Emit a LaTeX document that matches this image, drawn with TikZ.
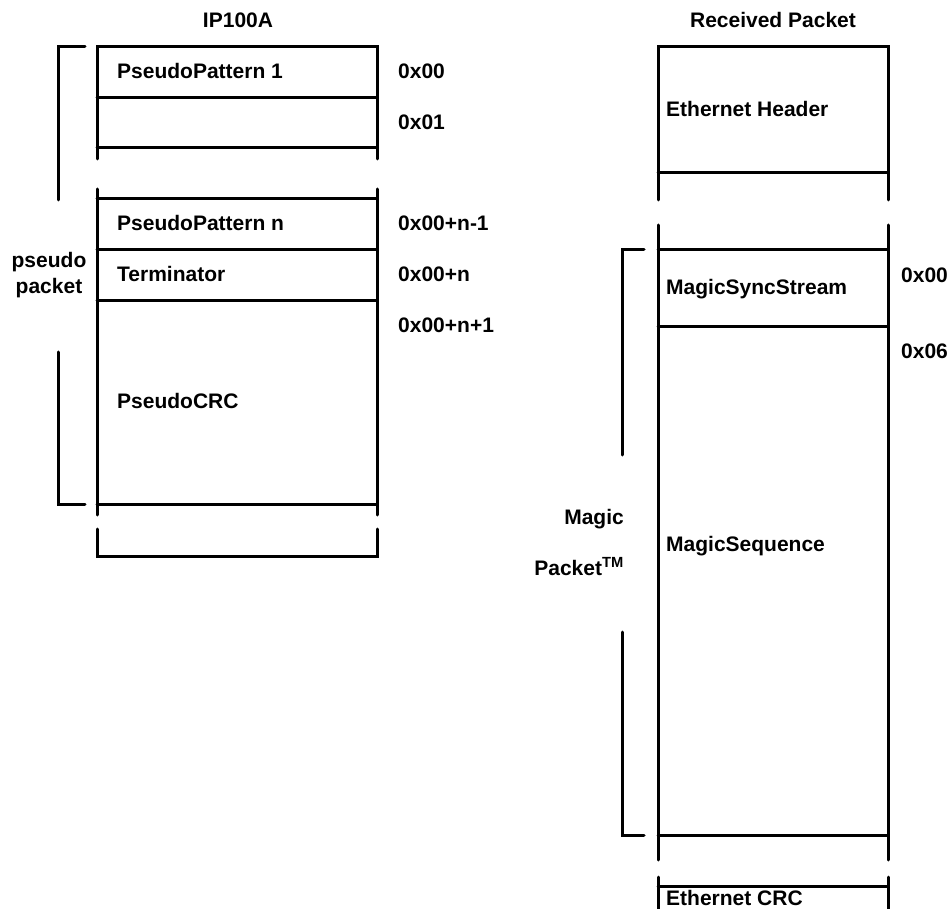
\documentclass[tikz,border=0pt]{standalone}
\usepackage{fontspec}
\setmainfont{Liberation Sans}
\begin{document}
\begin{tikzpicture}[x=1pt,y=-1pt,
  ln/.style={line width=3pt,line cap=round,line join=miter},
  lbl/.style={font=\fontsize{21}{25}\bfseries\selectfont,inner sep=0pt,anchor=base west},
  ttl/.style={font=\fontsize{21}{25}\bfseries\selectfont,inner sep=0pt,anchor=base},
  rlbl/.style={font=\fontsize{21}{25}\bfseries\selectfont,inner sep=0pt,anchor=base east}]
\useasboundingbox (0,0) rectangle (951,909);
% ---------- left: IP100A ----------
\node[ttl] (t1) at (238,28) {IP100A};
\draw[ln] (97,159) -- (97,47) -- (377,47) -- (377,159);
\draw[ln] (97,98) -- (377,98);
\draw[ln] (97,148) -- (377,148);
\draw[ln] (97,189) -- (97,515);
\draw[ln] (377,189) -- (377,515);
\draw[ln] (97,199) -- (377,199);
\draw[ln] (97,250) -- (377,250);
\draw[ln] (97,301) -- (377,301);
\draw[ln] (97,504) -- (377,504);
\draw[ln] (97,529) -- (97,556) -- (377,556) -- (377,529);
% bracket
\draw[ln] (85,47) -- (58,47) -- (58,200);
\draw[ln] (58,352) -- (58,504) -- (85,504);
\node[ttl] (pp1) at (49,268) {pseudo};
\node[ttl] (pp2) at (49,294) {packet};
% labels
\node[lbl] (p1) at (117,79) {PseudoPattern 1};
\node[lbl] (pn) at (117,231) {PseudoPattern n};
\node[lbl] (term) at (117,282) {Terminator};
\node[lbl] (pcrc) at (117,409) {PseudoCRC};
\node[lbl] (a0) at (398,79) {0x00};
\node[lbl] (a1) at (398,130) {0x01};
\node[lbl] (an1) at (398,231) {0x00+n-1};
\node[lbl] (an) at (398,282) {0x00+n};
\node[lbl] (anp) at (398,333) {0x00+n+1};
% ---------- right: Received Packet ----------
\node[ttl] (t2) at (773,28) {Received Packet};
\draw[ln] (658,200) -- (658,47) -- (888,47) -- (888,200);
\draw[ln] (658,173) -- (888,173);
\draw[ln] (658,225) -- (658,860);
\draw[ln] (888,225) -- (888,860);
\draw[ln] (658,250) -- (888,250);
\draw[ln] (658,327) -- (888,327);
\draw[ln] (658,835) -- (888,835);
\draw[ln] (658,877) -- (658,915);
\draw[ln] (888,877) -- (888,915);
\draw[ln] (658,886) -- (888,886);
% bracket
\draw[ln] (644,250) -- (622,250) -- (622,455);
\draw[ln] (622,632) -- (622,835) -- (644,835);
\node[rlbl] (m1) at (624,524) {Magic};
\node[rlbl] (m2) at (624,575) {Packet\textsuperscript{TM}};
% labels
\node[lbl] (eh) at (666,117) {Ethernet Header};
\node[lbl] (mss) at (666,295) {MagicSyncStream};
\node[lbl] (ms) at (666,551) {MagicSequence};
\node[lbl] (ecrc) at (666,905) {Ethernet CRC};
\node[lbl] (b0) at (901,283) {0x00};
\node[lbl] (b6) at (901,359) {0x06};
\end{tikzpicture}
\end{document}
